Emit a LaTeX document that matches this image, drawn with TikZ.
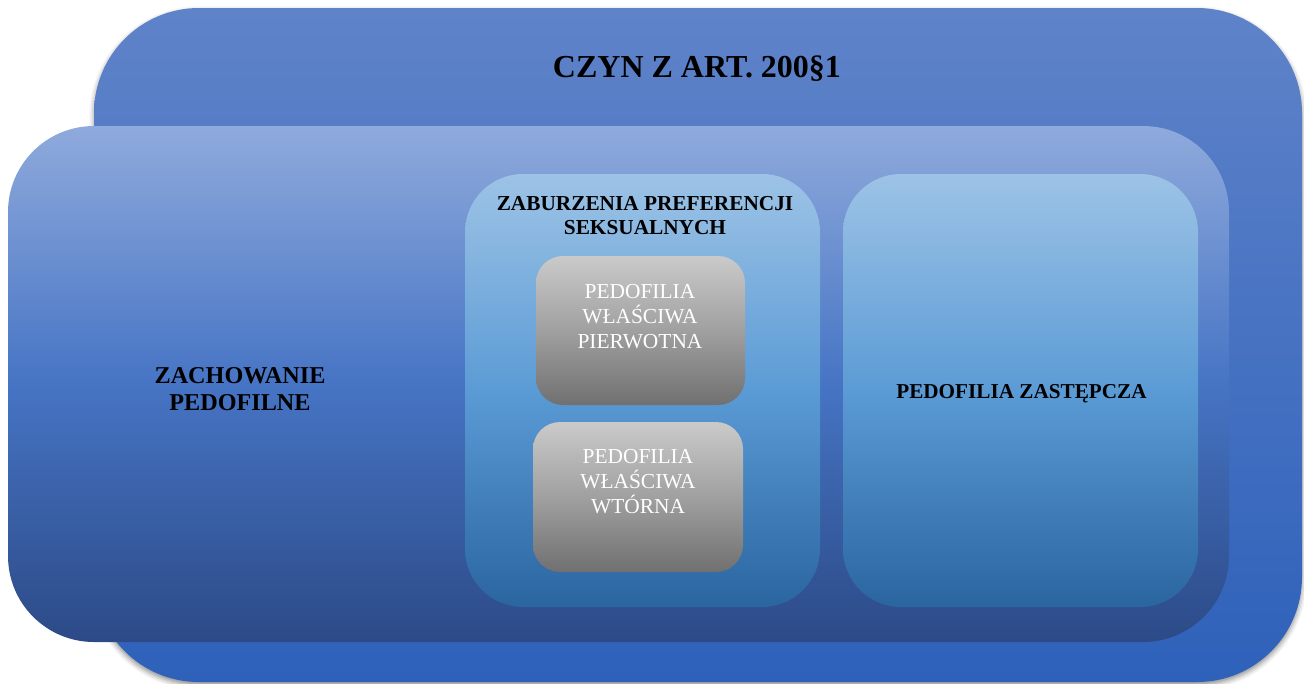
\documentclass[tikz,border=0pt]{standalone}
\usepackage{fontspec}
\setmainfont{Liberation Serif}
\usetikzlibrary{shadows.blur}

% palette
\definecolor{outerTop}{HTML}{5F83C9}
\definecolor{outerBot}{HTML}{2E61BA}
\definecolor{midTop}{HTML}{8FAADC}
\definecolor{midMid}{HTML}{4674C4}
\definecolor{midBot}{HTML}{2C4A87}
\definecolor{inTop}{HTML}{9DC3E6}
\definecolor{inMid}{HTML}{5B9BD5}
\definecolor{inBot}{HTML}{2A65A0}
\definecolor{grTop}{HTML}{CACACA}
\definecolor{grMid}{HTML}{A0A0A0}
\definecolor{grBot}{HTML}{707070}

\begin{document}
\begin{tikzpicture}[x=1pt,y=-1pt,
  panel/.style={rectangle, draw=none, inner sep=0pt, outer sep=0pt},
  outerbox/.style={panel, rounded corners=105pt, top color=outerTop, bottom color=outerBot,
    blur shadow={shadow xshift=0pt, shadow yshift=-3pt, shadow blur radius=5pt, shadow opacity=45}},
  midbox/.style={panel, rounded corners=86pt, top color=midTop, bottom color=midBot, middle color=midMid},
  innerbox/.style={panel, rounded corners=58pt, top color=inTop, bottom color=inBot, middle color=inMid},
  graybox/.style={panel, rounded corners=27pt, top color=grTop, bottom color=grBot, middle color=grMid},
  boldlabel/.style={inner sep=0pt, align=center, text=black, font=\bfseries},
  whitelabel/.style={inner sep=0pt, align=center, text=white, font=\fontsize{21.4}{25}\selectfont},
]
\useasboundingbox (0,0) rectangle (1304,683);

% nested panels
\node[outerbox, minimum width=1208pt, minimum height=674pt] (czyn) at (698,345) {};
\node[midbox, minimum width=1221pt, minimum height=516pt] (zach) at (618.5,384) {};
\node[innerbox, minimum width=355pt, minimum height=433pt] (zab) at (642.5,390.5) {};
\node[innerbox, minimum width=355pt, minimum height=433pt] (zast) at (1020.5,390.5) {};
\node[graybox, minimum width=209pt, minimum height=149pt] (pierw) at (640.5,330.5) {};
\node[graybox, minimum width=210pt, minimum height=150pt] (wtor) at (638,497) {};

% labels
\node[boldlabel, font=\bfseries\fontsize{32}{37}\selectfont, anchor=base] (czynT) at (697,77) {CZYN Z ART. 200§1};
\node[boldlabel, font=\bfseries\fontsize{24.2}{27}\selectfont] (zachT) at (240,389) {ZACHOWANIE\\PEDOFILNE};
\node[boldlabel, font=\bfseries\fontsize{21.3}{24}\selectfont] (zabT) at (645,216) {ZABURZENIA PREFERENCJI\\SEKSUALNYCH};
\node[boldlabel, font=\bfseries\fontsize{21.2}{25}\selectfont, anchor=base] (zastT) at (1021.5,398) {PEDOFILIA ZASTĘPCZA};
\node[whitelabel] (pierwT) at (640,316.5) {PEDOFILIA\\WŁAŚCIWA\\PIERWOTNA};
\node[whitelabel] (wtorT) at (638,481.5) {PEDOFILIA\\WŁAŚCIWA\\WTÓRNA};
\end{tikzpicture}
\end{document}
